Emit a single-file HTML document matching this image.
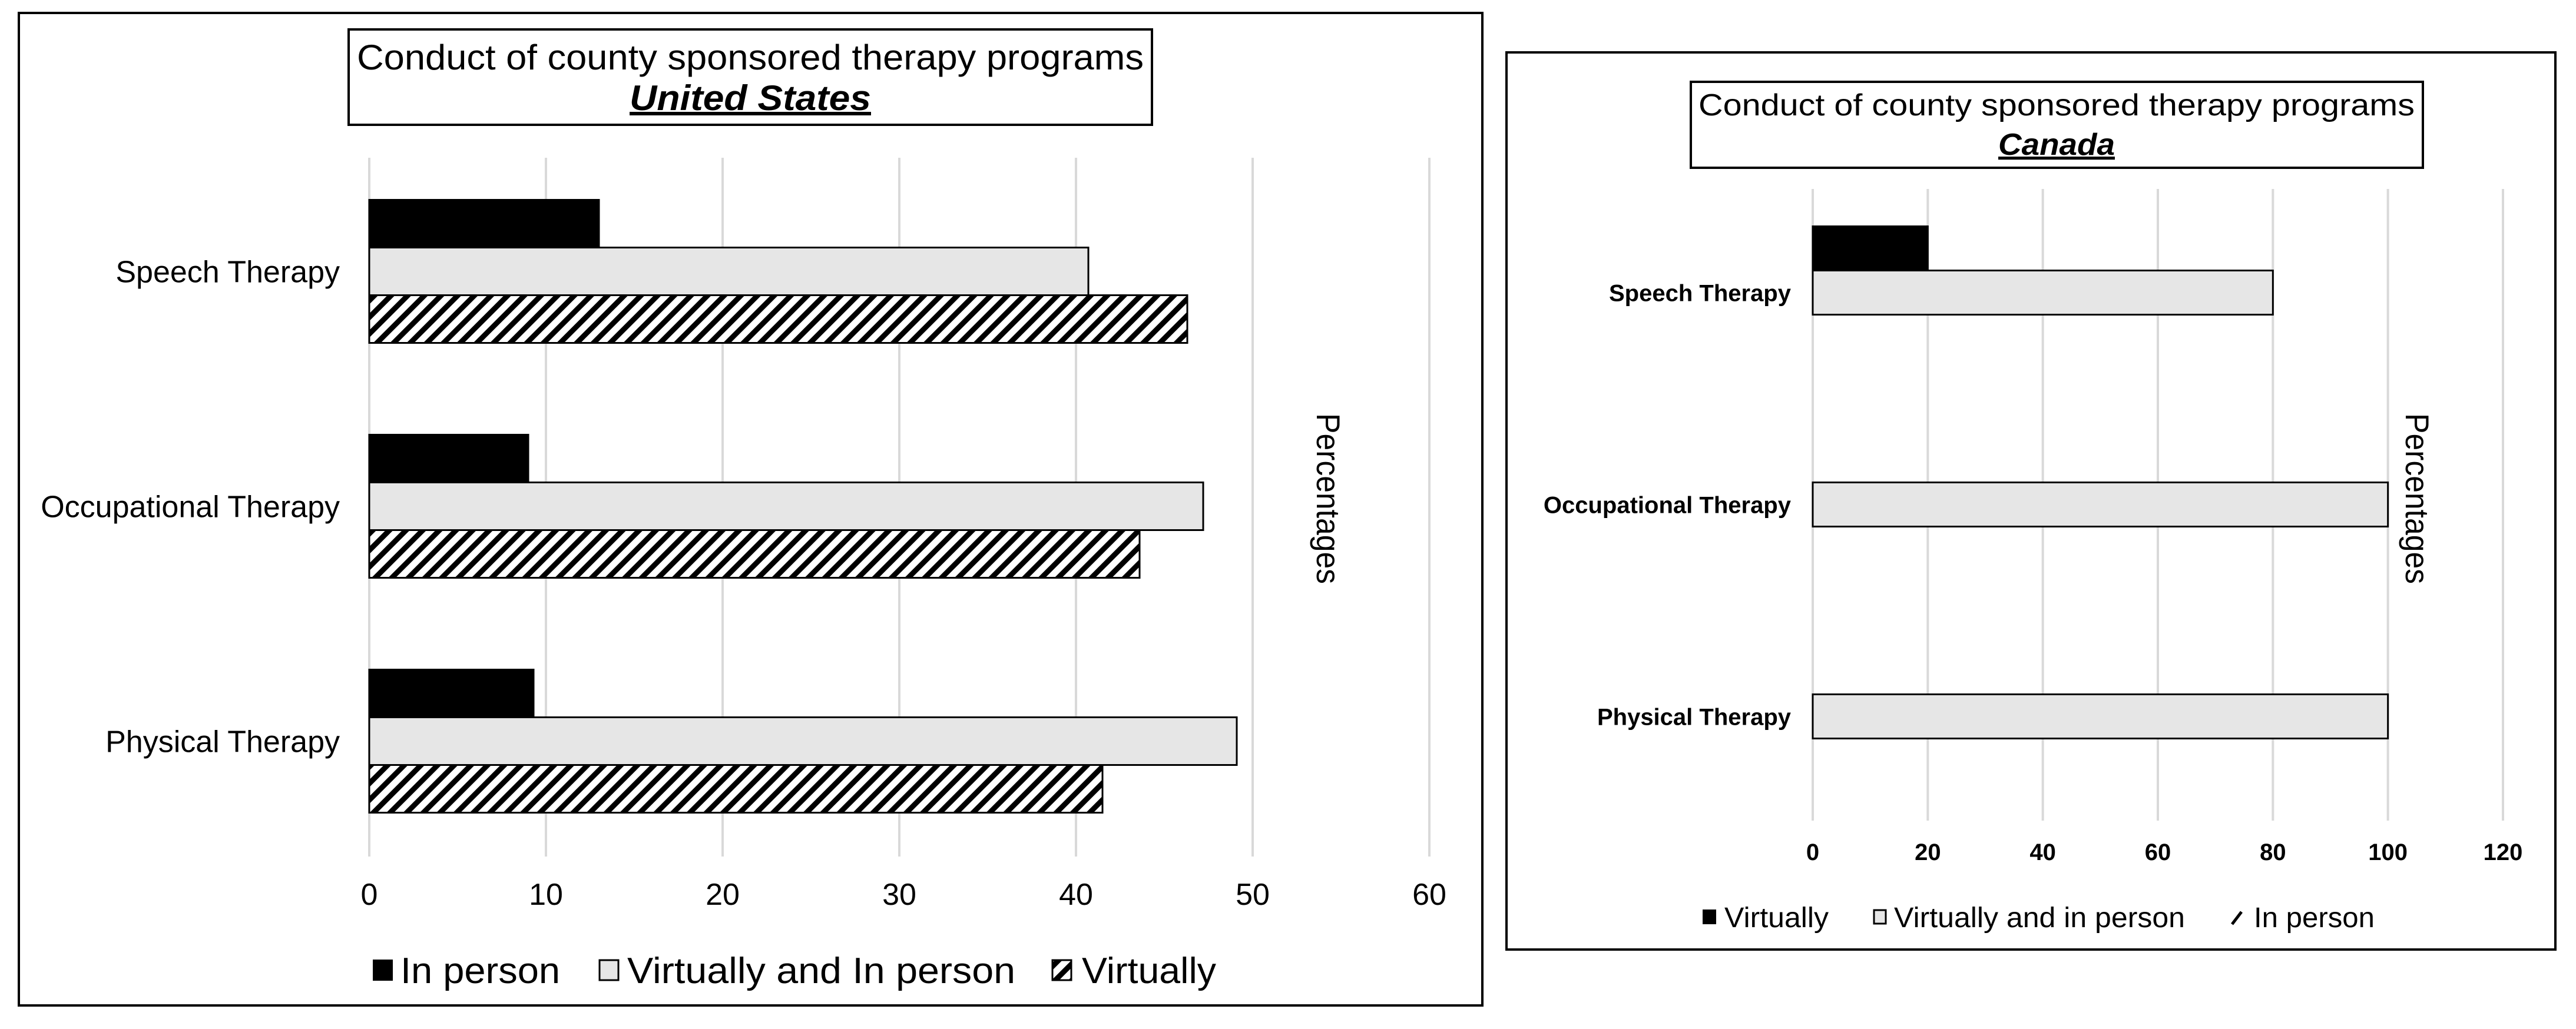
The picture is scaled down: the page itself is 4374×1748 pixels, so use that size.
<!DOCTYPE html>
<html><head><meta charset="utf-8"><style>
html,body{margin:0;padding:0;background:#fff}
svg{display:block}
text{font-family:"Liberation Sans",Arial,sans-serif;fill:#000}
</style></head><body>
<svg id="svg" width="4374" height="1748" viewBox="0 0 4374 1748" xmlns="http://www.w3.org/2000/svg">
<defs>
<pattern id="hatch" patternUnits="userSpaceOnUse" width="20" height="20" patternTransform="rotate(45)">
<rect width="20" height="20" fill="#fff"/><rect x="0" y="0" width="9" height="20" fill="#000"/>
</pattern>
</defs>
<!-- Left panel -->
<g>
<rect x="32" y="22" width="2485" height="1686" fill="#fff" stroke="#000" stroke-width="4"/>
<rect x="592" y="50" width="1364" height="162" fill="#fff" stroke="#000" stroke-width="4"/>
<text x="1274" y="118" font-size="60" text-anchor="middle" textLength="1336" lengthAdjust="spacingAndGlyphs">Conduct of county sponsored therapy programs</text>
<text x="1274" y="187" font-size="60" font-weight="bold" font-style="italic" text-decoration="underline" text-anchor="middle" textLength="410" lengthAdjust="spacingAndGlyphs">United States</text>
<g id="usPlot"></g>
<text transform="translate(2236,847) rotate(90)" font-size="56" text-anchor="middle" textLength="290" lengthAdjust="spacingAndGlyphs">Percentages</text>
<g>
<rect x="633" y="1630" width="34" height="36" fill="#000"/>
<text x="680" y="1670" font-size="62" textLength="271" lengthAdjust="spacingAndGlyphs">In person</text>
<rect x="1018" y="1631" width="32" height="34" fill="#e6e6e6" stroke="#000" stroke-width="3"/>
<text x="1065" y="1670" font-size="62" textLength="659" lengthAdjust="spacingAndGlyphs">Virtually and In person</text>
<rect x="1787" y="1631" width="32" height="34" fill="url(#hatch)" stroke="#000" stroke-width="3"/>
<text x="1837" y="1670" font-size="62" textLength="228" lengthAdjust="spacingAndGlyphs">Virtually</text>
</g>
</g>
<!-- Right panel -->
<g>
<rect x="2558" y="89" width="1781" height="1524" fill="#fff" stroke="#000" stroke-width="4"/>
<rect x="2871" y="139" width="1243" height="146" fill="#fff" stroke="#000" stroke-width="4"/>
<text x="3492" y="196" font-size="52" text-anchor="middle" textLength="1216" lengthAdjust="spacingAndGlyphs">Conduct of county sponsored therapy programs</text>
<text x="3492" y="263" font-size="52" font-weight="bold" font-style="italic" text-decoration="underline" text-anchor="middle" textLength="198" lengthAdjust="spacingAndGlyphs">Canada</text>
<g id="caPlot"></g>
<text transform="translate(4085,847) rotate(90)" font-size="56" text-anchor="middle" textLength="290" lengthAdjust="spacingAndGlyphs">Percentages</text>
<g>
<rect x="2891" y="1545" width="23" height="25" fill="#000"/>
<text x="2928" y="1575" font-size="48" textLength="177" lengthAdjust="spacingAndGlyphs">Virtually</text>
<rect x="3182" y="1546" width="20" height="23" fill="#e6e6e6" stroke="#000" stroke-width="3"/>
<text x="3216" y="1575" font-size="48" textLength="494" lengthAdjust="spacingAndGlyphs">Virtually and in person</text>
<path d="M3790 1570 L3806 1549" stroke="#000" stroke-width="5"/>
<text x="3827" y="1575" font-size="48" textLength="205" lengthAdjust="spacingAndGlyphs">In person</text>
</g>
</g>
</svg>
<script>
const NS="http://www.w3.org/2000/svg";
const usCategories=["Speech Therapy","Occupational Therapy","Physical Therapy"];
const usInPerson=[13,9,9.3];
const usBoth=[40.7,47.2,49.1];
const usVirtually=[46.3,43.6,41.5];
const usTicks=[0,10,20,30,40,50,60];
const caCategories=["Speech Therapy","Occupational Therapy","Physical Therapy"];
const caVirtually=[20,0,0];
const caBoth=[80,100,100];
const caInPerson=[0,0,0];
const caTicks=[0,20,40,60,80,100,120];

function mk(parent,tag,attrs){const e=document.createElementNS(NS,tag);for(const k in attrs)e.setAttribute(k,attrs[k]);parent.appendChild(e);return e;}

function drawChart(g,cfg){
  const xs=v=>cfg.x0+(v-cfg.min)/(cfg.max-cfg.min)*(cfg.x1-cfg.x0);
  cfg.ticks.forEach(t=>{
    const l=mk(g,"line",{x1:xs(t),x2:xs(t),y1:cfg.gTop,y2:cfg.gBot,stroke:"#d9d9d9","stroke-width":4});
    
    
    const tx=mk(g,"text",{x:xs(t),y:cfg.tickY,"font-size":cfg.tickFont,"text-anchor":"middle","font-weight":cfg.bold?"bold":"normal"});
    tx.textContent=t;
    
    
  });
  cfg.categories.forEach((c,i)=>{
    const cy=cfg.c0+i*cfg.step;
    const lab=mk(g,"text",{x:cfg.labelX,y:cy+cfg.labelFont*0.36,"font-size":cfg.labelFont,"text-anchor":"end","font-weight":cfg.bold?"bold":"normal"});
    lab.textContent=c;
    
    
    cfg.series.forEach((s,j)=>{
      const v=s.values[i];
      if(v<=0) return;
      const y=cy-cfg.bh*1.5+j*cfg.bh;
      const r=mk(g,"rect",{x:xs(0),y:y,width:xs(v)-xs(0),height:cfg.bh,fill:s.fill,stroke:"#000","stroke-width":3});
      
      
    });
  });
}
drawChart(document.getElementById("usPlot"),{
  x0:627,x1:2427,min:0,max:60,ticks:usTicks,gTop:268,gBot:1455,tickY:1537,tickFont:52,
  categories:usCategories,c0:461,step:399,bh:81,labelX:577,labelFont:52,bold:false,
  series:[{key:"in-person",values:usInPerson,fill:"#000"},{key:"virtually-and-in-person",values:usBoth,fill:"#e6e6e6"},{key:"virtually",values:usVirtually,fill:"url(#hatch)"}]
});
drawChart(document.getElementById("caPlot"),{
  x0:3078,x1:4250,min:0,max:120,ticks:caTicks,gTop:321,gBot:1394,tickY:1461,tickFont:40,
  categories:caCategories,c0:497,step:360,bh:75,labelX:3041,labelFont:40,bold:true,
  series:[{key:"virtually",values:caVirtually,fill:"#000"},{key:"virtually-and-in-person",values:caBoth,fill:"#e6e6e6"},{key:"in-person",values:caInPerson,fill:"url(#hatch)"}]
});
</script>
</body></html>
